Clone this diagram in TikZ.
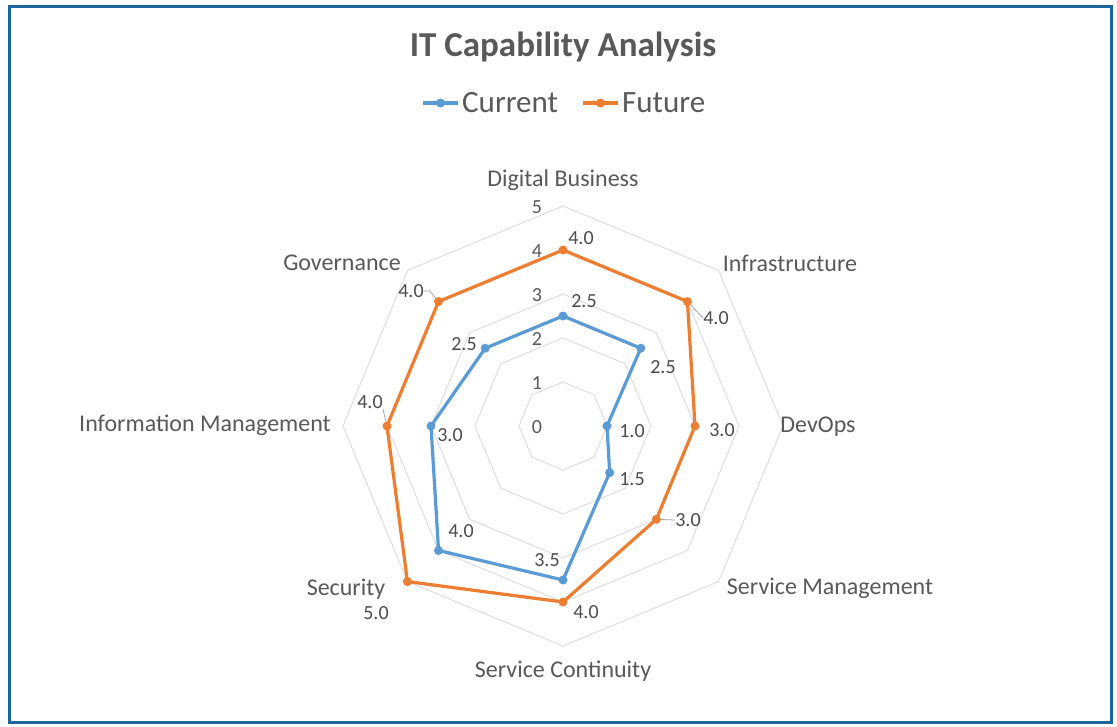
\documentclass[tikz,border=0pt]{standalone}
\usepackage{fontspec}
\setmainfont{Carlito}
\usetikzlibrary{calc}
\definecolor{curc}{HTML}{5B9BD5}
\definecolor{futc}{HTML}{ED7D31}
\definecolor{txtc}{HTML}{595959}
\definecolor{gridc}{HTML}{DEDEDE}
\definecolor{framec}{HTML}{1B659C}
\begin{document}
\begin{tikzpicture}[x=1pt,y=-1pt,
  gridline/.style={draw=gridc,line width=1pt},
  curline/.style={draw=curc,line width=3.2pt,line join=round},
  futline/.style={draw=futc,line width=3.2pt,line join=round},
  curdot/.style={circle,fill=curc,inner sep=0pt,minimum size=9pt},
  futdot/.style={circle,fill=futc,inner sep=0pt,minimum size=9pt},
  catlabel/.style={text=txtc,font=\fontsize{24}{28}\selectfont,inner sep=0pt},
  datalabel/.style={text=txtc!85!black,font=\fontsize{20}{24}\selectfont,inner sep=0pt},
  axislabel/.style={text=txtc,font=\fontsize{20}{24}\selectfont,inner sep=0pt},
  legendtext/.style={text=txtc,font=\fontsize{31}{36}\selectfont,inner sep=0pt,anchor=west},
  leader/.style={draw=black!35,line width=0.8pt}]
\useasboundingbox (0,0) rectangle (1117,726);
\fill[white] (0,0) rectangle (1117,726);
\draw[framec,line width=3pt] (9.5,6.5) rectangle (1111,722.5);

% title and legend
\node[text=txtc,font=\bfseries\fontsize{35}{40}\selectfont,inner sep=0pt] (title) at (563,47) {IT Capability Analysis};
\coordinate (lc1) at (423,103); \coordinate (lc2) at (458,103);
\draw[curline] (lc1) -- (lc2);
\node[curdot] (lcd) at (440.5,103) {};
\node[legendtext] (lcur) at (462,103) {Current};
\coordinate (lf1) at (583,103); \coordinate (lf2) at (618,103);
\draw[futline] (lf1) -- (lf2);
\node[futdot] (lfd) at (600.5,103) {};
\node[legendtext] (lfut) at (622,103) {Future};

% grid
\begin{scope}[shift={(563,426)}]
\foreach \k in {1,...,5}{
  \draw[gridline] (-90:{44*\k}) -- (-45:{44*\k}) -- (0:{44*\k}) -- (45:{44*\k}) -- (90:{44*\k}) -- (135:{44*\k}) -- (180:{44*\k}) -- (225:{44*\k}) -- cycle;
}
\foreach \a/\v [count=\i] in {-90/2.5,-45/2.5,0/1,45/1.5,90/3.5,135/4,180/3,225/2.5}
  \coordinate (c\i) at (\a:{44*\v});
\foreach \a/\v [count=\i] in {-90/4,-45/4,0/3,45/3,90/4,135/5,180/4,225/4}
  \coordinate (f\i) at (\a:{44*\v});
\end{scope}

% axis numbers
\foreach \k in {0,...,5}
  \node[axislabel] (ax\k) at (537,{427-44*\k}) {\k};

% series
\draw[futline] (f1) -- (f2) -- (f3) -- (f4) -- (f5) -- (f6) -- (f7) -- (f8) -- cycle;
\draw[curline] (c1) -- (c2) -- (c3) -- (c4) -- (c5) -- (c6) -- (c7) -- (c8) -- cycle;
\foreach \i in {1,...,8}{
  \node[futdot] (fd\i) at (f\i) {};
  \node[curdot] (cd\i) at (c\i) {};
}

% category labels
\node[catlabel] (catdb) at (563,180) {Digital Business};
\node[catlabel] (catin) at (790,263) {Infrastructure};
\node[catlabel] (catdo) at (818,427) {DevOps};
\node[catlabel] (catsm) at (830,588) {Service Management};
\node[catlabel] (catsc) at (563,671) {Service Continuity};
\node[catlabel] (catse) at (346,589) {Security};
\node[catlabel] (catim) at (205,425) {Information Management};
\node[catlabel] (catgo) at (342,263) {Governance};

% current data labels
\node[datalabel] (lc1) at (584,301) {2.5};
\node[datalabel] (lc2) at (663,367) {2.5};
\node[datalabel] (lc3) at (632,431) {1.0};
\node[datalabel] (lc4) at (632,479) {1.5};
\node[datalabel] (lc5) at (547,560) {3.5};
\node[datalabel] (lc6) at (461,531) {4.0};
\node[datalabel] (lc7) at (450,435) {3.0};
\node[datalabel] (lc8) at (464,344) {2.5};

% future data labels
\node[datalabel] (lf1) at (581,238) {4.0};
\node[datalabel] (lf2) at (716,318) {4.0};
\node[datalabel] (lf3) at (722,430) {3.0};
\node[datalabel] (lf4) at (688,520) {3.0};
\node[datalabel] (lf5) at (586,612) {4.0};
\node[datalabel] (lf6) at (376,613) {5.0};
\node[datalabel] (lf7) at (370,402) {4.0};
\node[datalabel] (lf8) at (411,291) {4.0};

% leader lines
\draw[leader] (lf8.east) -- ++(6,0) -- (fd8);
\draw[leader] (lf2.west) -- (fd2);
\draw[leader] (lf4.west) -- (fd4);
\draw[leader] (lf7.south east) -- (fd7);
\end{tikzpicture}
\end{document}
